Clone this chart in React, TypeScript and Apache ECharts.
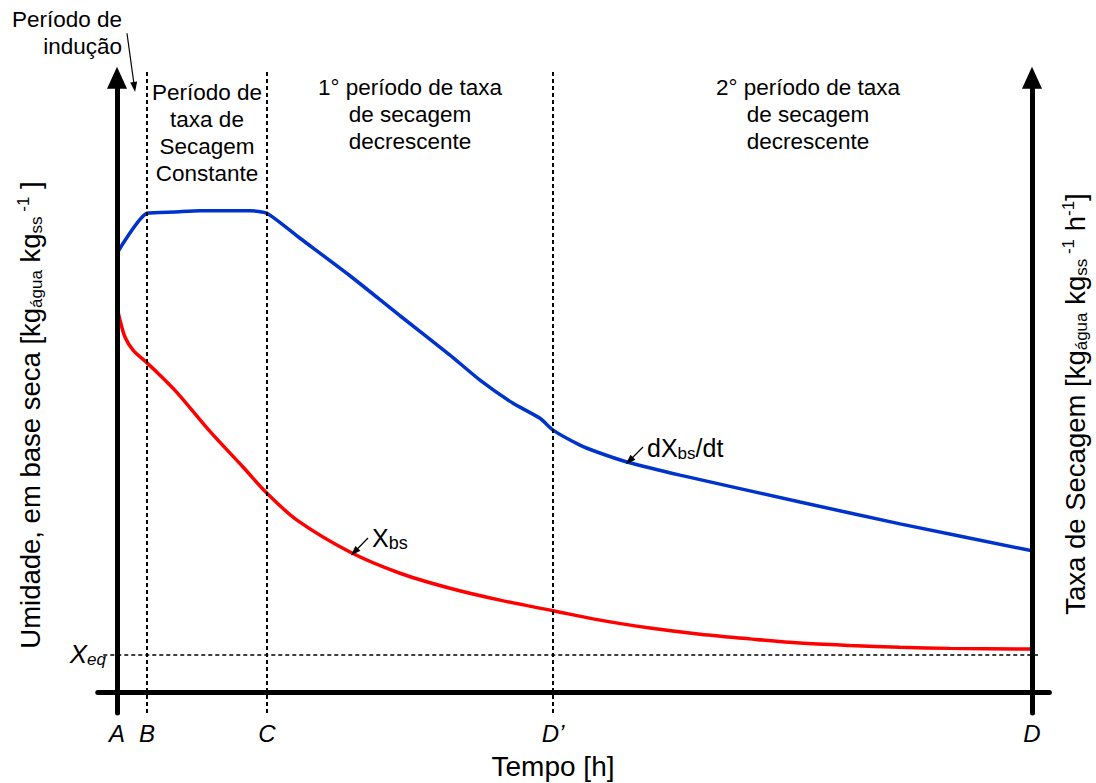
import { useEffect, useRef } from 'react';
import * as echarts from 'echarts';

const FONT = '"Liberation Sans", Arial, Helvetica, sans-serif';

// Marcos do eixo do tempo
const markNames = ['A', 'B', 'C', 'D’', 'D'];
const markTimes = [0, 3.28, 16.39, 47.65, 100];

// Umidade em base seca, X_bs
const moistureTime = [0, 0.33, 0.87, 1.75, 3.17, 4.48, 6.56, 10.16, 13.77, 16.39, 19.67, 25.46, 30.93, 36.39, 41.86, 47.65, 52.79, 58.25, 63.72, 69.18, 74.64, 80.11, 85.57, 91.04, 100];
const moistureValue = [61.6, 59.5, 56.8, 54.7, 52.8, 51.0, 47.9, 41.7, 36.0, 31.8, 27.5, 22.4, 19.0, 16.6, 14.7, 13.0, 11.5, 10.24, 9.25, 8.5, 7.84, 7.45, 7.15, 6.98, 6.88];

// Taxa de secagem, dX_bs/dt
const rateTime = [0, 3.28, 6.34, 9.07, 11.26, 14.54, 16.39, 20.0, 25.46, 30.93, 36.39, 39.67, 43.28, 46.23, 47.65, 50.6, 52.46, 55.74, 61.53, 74.64, 85.57, 100];
const rateValue = [70.2, 76.6, 76.8, 77.0, 77.0, 77.0, 76.6, 72.6, 66.6, 60.2, 53.9, 49.9, 46.2, 43.8, 41.9, 39.5, 38.4, 36.8, 34.7, 30.4, 26.9, 22.6];

// Umidade de equilíbrio
const xEq = 5.92;

const moistureData = moistureTime.map((t, i) => [t, moistureValue[i]]);
const rateData = rateTime.map((t, i) => [t, rateValue[i]]);

const BLACK = '#000';

type Pt = [number, number];
const seg = (from: Pt, to: Pt, lineStyle: any, head?: number[]) => [
  { coord: from, symbol: 'none', lineStyle },
  head
    ? { coord: to, symbol: 'triangle', symbolSize: head, itemStyle: { color: BLACK } }
    : { coord: to, symbol: 'none' },
];

const axisStyle = { color: BLACK, width: 5, type: 'solid', cap: 'round' };
const guideStyle = { color: BLACK, width: 2, type: [4, 3] };
const pointerStyle = { color: BLACK, width: 1.2, type: 'solid' };

const rich = (size: number, italic = false, subRatio = 0.64) => {
  const fontStyle = italic ? 'italic' : 'normal';
  const sub = Math.round(size * subRatio);
  return {
    n: { fontSize: size, fontFamily: FONT, fontStyle, fill: BLACK, color: BLACK, lineHeight: size + 2 },
    sub: { fontSize: sub, fontFamily: FONT, fontStyle, fill: BLACK, color: BLACK, verticalAlign: 'bottom', lineHeight: 12 },
    sup: { fontSize: sub, fontFamily: FONT, fontStyle, fill: BLACK, color: BLACK, verticalAlign: 'top', lineHeight: 12 },
  };
};

const plain = (text: string, x: number, y: number, align: string, size = 22.5) => ({
  type: 'text',
  x,
  y,
  silent: true,
  style: {
    text,
    fontSize: size,
    fontFamily: FONT,
    fill: BLACK,
    align,
    verticalAlign: 'top',
    lineHeight: 27,
  },
});

const option: any = {
  animation: false,
  backgroundColor: '#fff',
  grid: { left: 89.55, right: 27.4, top: 4.5, bottom: 66 },
  xAxis: {
    type: 'value',
    min: -3,
    max: 104,
    axisLine: { show: false },
    axisTick: { show: false },
    splitLine: { show: false },
    axisLabel: {
      customValues: markTimes,
      margin: 4,
      fontSize: 24,
      fontStyle: 'italic',
      fontFamily: FONT,
      color: BLACK,
      formatter: (v: number) => {
        let best = 0;
        markTimes.forEach((t, i) => {
          if (Math.abs(t - v) < Math.abs(markTimes[best] - v)) best = i;
        });
        return markNames[best];
      },
    },
  },
  yAxis: { type: 'value', min: -4, max: 110, show: false },
  series: [
    {
      name: 'X_bs',
      type: 'line',
      data: moistureData,
      showSymbol: false,
      smooth: 0.3,
      lineStyle: { color: '#ff0000', width: 3.5 },
      z: 4,
    },
    {
      name: 'dX_bs/dt',
      type: 'line',
      data: rateData,
      showSymbol: false,
      smooth: 0.2,
      lineStyle: { color: '#0033cc', width: 3.5 },
      z: 4,
    },
    {
      name: 'eixos',
      type: 'line',
      data: [],
      clip: false,
      itemStyle: { color: BLACK },
      z: 3,
      markLine: {
        silent: true,
        animation: false,
        symbol: ['none', 'none'],
        label: { show: false },
        emphasis: { disabled: true },
        data: [
          // eixo da umidade (esquerda) e eixo da taxa (direita)
          seg([0, -3.36], [0, 98.3], axisStyle, [20, 22]),
          seg([100, -3.36], [100, 98.3], axisStyle, [20, 22]),
          // eixo do tempo
          seg([-2.1, 0], [101.9, 0], axisStyle),
          // limites entre os períodos
          seg([markTimes[1], -3.36], [markTimes[1], 99.2], guideStyle),
          seg([markTimes[2], -3.36], [markTimes[2], 99.2], guideStyle),
          seg([markTimes[3], -3.36], [markTimes[3], 99.2], guideStyle),
          // umidade de equilíbrio
          seg([-1.5, xEq], [100.66, xEq], { ...guideStyle, width: 1.6 }),
          // setas indicativas
          seg([1.09, 105.4], [1.9, 96.8], pointerStyle, [7, 10]),
          seg([27.43, 24.64], [25.95, 22.4], pointerStyle, [7, 10]),
          seg([57.49, 39.2], [56.0, 37.0], pointerStyle, [7, 10]),
        ],
      },
    },
  ],
  graphic: [
    plain('Período de\nindução', 122, 6, 'right'),
    plain('Período de\ntaxa de\nSecagem\nConstante', 207, 79, 'center'),
    plain('1° período de taxa\nde secagem\ndecrescente', 410, 74, 'center'),
    plain('2° período de taxa\nde secagem\ndecrescente', 808, 74, 'center'),
    {
      type: 'text',
      x: 553,
      y: 766,
      silent: true,
      style: { text: 'Tempo [h]', fontSize: 28, fontFamily: FONT, fill: BLACK, align: 'center', verticalAlign: 'middle' },
    },
    {
      type: 'text',
      x: 30,
      y: 415,
      rotation: Math.PI / 2,
      silent: true,
      style: {
        text: '{n|Umidade, em base seca [kg}{sub|água}{n| kg}{sub|ss}{sup| -1}{n| ]}',
        rich: rich(27.5, false, 0.6),
        align: 'center',
        verticalAlign: 'middle',
      },
    },
    {
      type: 'text',
      x: 1075,
      y: 404,
      rotation: Math.PI / 2,
      silent: true,
      style: {
        text: '{n|Taxa de Secagem [kg}{sub|água}{n| kg}{sub|ss}{sup| -1}{n| h}{sup|-1}{n|]}',
        rich: rich(27.5, false, 0.6),
        align: 'center',
        verticalAlign: 'middle',
      },
    },
    {
      type: 'text',
      x: 106,
      y: 654,
      silent: true,
      style: { text: '{n|X}{sub|eq}', rich: rich(26, true), align: 'right', verticalAlign: 'middle' },
    },
    {
      type: 'text',
      x: 372,
      y: 538,
      silent: true,
      style: { text: '{n|X}{sub|bs}', rich: rich(25, false, 0.72), align: 'left', verticalAlign: 'middle' },
    },
    {
      type: 'text',
      x: 647,
      y: 448,
      silent: true,
      style: { text: '{n|dX}{sub|bs}{n|/dt}', rich: rich(25, false, 0.68), align: 'left', verticalAlign: 'middle' },
    },
  ],
};

export default function App() {
  const ref = useRef<HTMLDivElement>(null);
  useEffect(() => {
    if (!ref.current) return;
    const chart = echarts.init(ref.current, null, { renderer: 'svg' });
    chart.setOption(option);
    return () => chart.dispose();
  }, []);
  return (
    <div
      ref={ref}
      style={{ position: 'fixed', left: 0, top: 0, width: 1096, height: 783, background: '#fff' }}
    />
  );
}
